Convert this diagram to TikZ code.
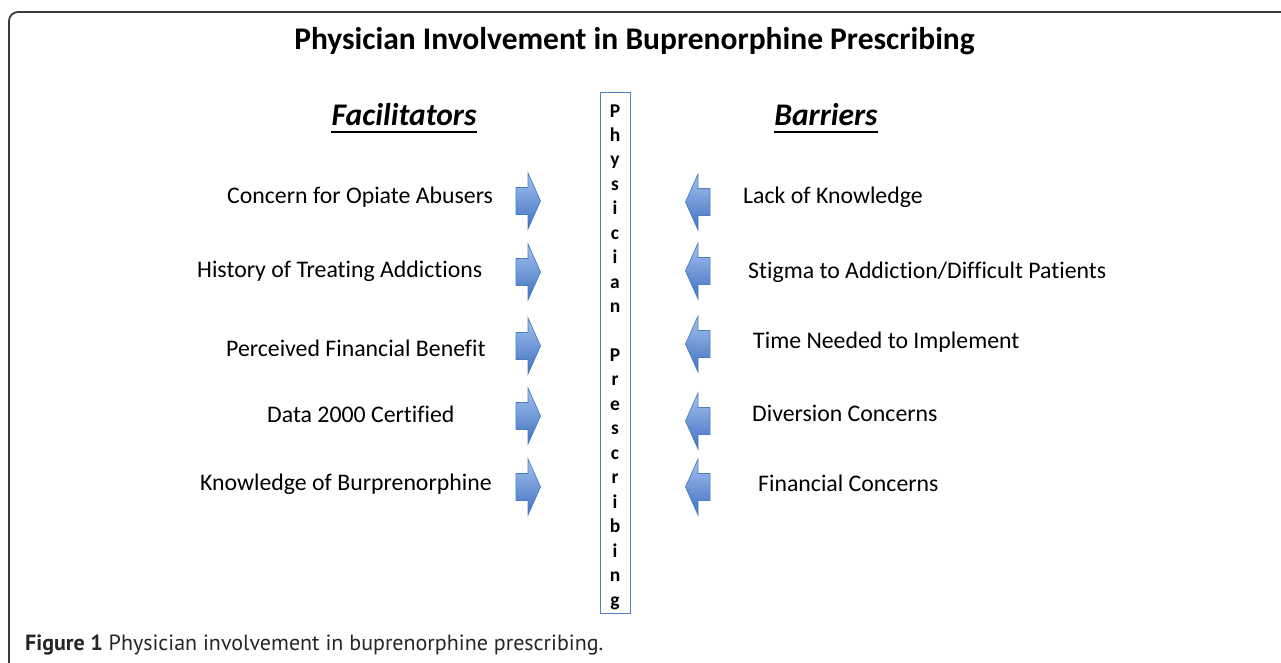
\documentclass[tikz,border=0pt]{standalone}
\usepackage{fontspec}
\setmainfont{Carlito}[Ligatures={NoCommon}]
\newfontfamily\capfont{PT Sans}
\definecolor{boxblue}{HTML}{4F81BD}
\definecolor{arrtop}{HTML}{A4C2EE}
\definecolor{arrbot}{HTML}{3F70C2}
\definecolor{arrline}{HTML}{4A7EBB}
\definecolor{framegray}{HTML}{3A3A3A}
\tikzset{
  frame/.style={draw=framegray, line width=1.8pt, rounded corners=9pt},
  itemtext/.style={inner sep=0pt, anchor=base west, font=\fontsize{23.8}{28}\selectfont},
  headtext/.style={inner sep=0pt, anchor=base, font=\bfseries\itshape\fontsize{31.5}{36}\selectfont},
  titletext/.style={inner sep=0pt, anchor=base, font=\bfseries\fontsize{31.5}{36}\selectfont},
  vletter/.style={inner sep=0pt, anchor=base, font=\bfseries\fontsize{19.5}{22}\selectfont},
  vbox/.style={draw=boxblue, line width=1pt, fill=white, minimum width=30pt, minimum height=521pt, inner sep=0pt, anchor=north},
  arrowshape/.style={draw=arrline, line width=0.7pt, top color=arrtop, bottom color=arrbot},
  rarr/.pic={\draw[arrowshape] (-24.5,-13.5) -- (-12.5,-13.5) -- (-12.5,-28) -- (0,0) -- (-12.5,28) -- (-12.5,13.5) -- (-24.5,13.5) -- cycle;},
  larr/.pic={\draw[arrowshape] (24.5,-13.5) -- (12.5,-13.5) -- (12.5,-28) -- (0,0) -- (12.5,28) -- (12.5,13.5) -- (24.5,13.5) -- cycle;},
}
\begin{document}
\begin{tikzpicture}[x=1pt,y=-1pt]
\useasboundingbox (0,0) rectangle (1281,662);
\clip (0,0) rectangle (1281,662);
\fill[white] (0,0) rectangle (1281,662);
\draw[frame] (9,12) rectangle (1310,700);

\node[titletext] (title) at (634.5,49) {Physician Involvement in Buprenorphine Prescribing};

\node[headtext] (fac) at (404,125) {Facilitators};
\draw[line width=2pt] ([yshift=-7pt]fac.base west) -- ([yshift=-7pt]fac.base east);
\node[headtext] (bar) at (826,125) {Barriers};
\draw[line width=2pt] ([yshift=-7pt]bar.base west) -- ([yshift=-7pt]bar.base east);

\node[vbox] (vb) at (615,92) {};
\foreach \ch [count=\i from 0] in {P,h,y,s,i,c,i,a,n,{},P,r,e,s,c,r,i,b,i,n,g}
  \node[vletter] (v\i) at (615,{117+\i*24.45}) {\ch};

\node[itemtext] (f1) at (227,203) {Concern for Opiate Abusers};
\node[itemtext] (f2) at (197,277) {History of Treating Addictions};
\node[itemtext] (f3) at (226,356) {Perceived Financial Benefit};
\node[itemtext] (f4) at (267,422) {Data 2000 Certified};
\node[itemtext] (f5) at (200,490) {Knowledge of Burprenorphine};

\node[itemtext] (b1) at (743,203) {Lack of Knowledge};
\node[itemtext] (b2) at (748,278) {Stigma to Addiction/Difficult Patients};
\node[itemtext] (b3) at (753,348) {Time Needed to Implement};
\node[itemtext] (b4) at (752,421) {Diversion Concerns};
\node[itemtext] (b5) at (758,491) {Financial Concerns};

\pic at (540.5,201) {rarr};
\pic at (540.5,272) {rarr};
\pic at (540.5,346) {rarr};
\pic at (540.5,416) {rarr};
\pic at (540.5,487) {rarr};

\pic at (685.5,202) {larr};
\pic at (685.5,271) {larr};
\pic at (685.5,344) {larr};
\pic at (685.5,421) {larr};
\pic at (685.5,487) {larr};

\node[inner sep=0pt, anchor=base west, font=\capfont\fontsize{22}{26}\selectfont, text=black!85] (cap) at (25,650) {\textbf{Figure 1} Physician involvement in buprenorphine prescribing.};
\end{tikzpicture}
\end{document}
